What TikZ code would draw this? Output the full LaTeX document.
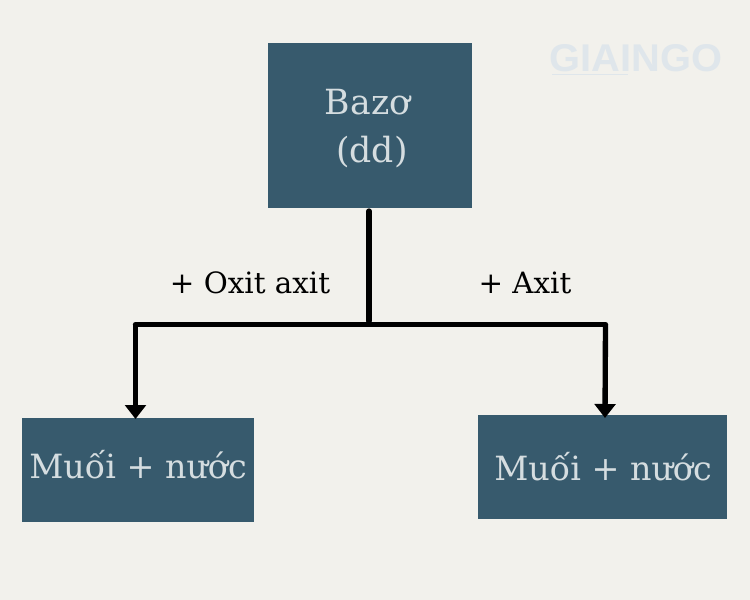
\documentclass[tikz,border=0pt]{standalone}
\usepackage{fontspec}
\setmainfont{DejaVu Serif}
\newfontfamily\logofont{Liberation Sans}
\usetikzlibrary{arrows.meta}
\definecolor{bgc}{HTML}{F2F1EC}
\definecolor{boxc}{HTML}{375A6D}
\definecolor{boxt}{HTML}{D5DDE0}
\definecolor{logoc}{HTML}{DFE6EB}
\tikzset{
 boxn/.style={fill=boxc,inner sep=0pt,anchor=north west},
 boxtxt/.style={text=boxt,inner sep=0pt,font=\fontsize{25}{30}\selectfont},
 lab/.style={text=black,inner sep=0pt,font=\fontsize{22}{26}\selectfont},
 conn/.style={line width=4pt,line cap=round},
 arr/.style={line width=4pt,-{Triangle[length=10.5pt,width=15.5pt]}}
}
\begin{document}
\begin{tikzpicture}[x=0.75pt,y=-0.75pt]
\useasboundingbox (0,0) rectangle (750,600);
\fill[bgc] (0,0) rectangle (750,600);
\node[boxn,minimum width=153pt,minimum height=123.75pt] (baz) at (268,43) {};
\node[boxtxt,font=\fontsize{26}{36}\selectfont,align=center] (baztxt) at (367.5,129) {Bazơ\\\hspace*{6.75pt}(dd)};
\node[boxn,minimum width=174pt,minimum height=78pt] (ml) at (22,418) {};
\node[boxtxt] (mlt) at (138,465) {Muối + nước};
\node[boxn,minimum width=186.75pt,minimum height=78pt] (mr) at (478,415) {};
\node[boxtxt] (mrt) at (603,467) {Muối + nước};
\node[lab] (la) at (250,283) {+ Oxit axit};
\node[lab] (lb) at (525,283) {+ Axit};
\coordinate (top) at (369,211);
\coordinate (j) at (369,321);
\coordinate (a1) at (135.5,324.5);
\coordinate (a2) at (605.5,324.5);
\coordinate (a1e) at (135.5,419);
\coordinate (a2e) at (605,418);
\draw[conn] (top) -- (j);
\draw[conn] (a1) -- (a2);
\draw[arr] (a1) -- (a1e);
\draw[arr] (a2) -- (a2e);
\node[text=logoc,font=\logofont\bfseries\fontsize{29}{30}\selectfont,inner sep=0pt,xscale=1.03] (logo) at (636,58) {GIAINGO};
\coordinate (ul1) at (552,74.5);
\coordinate (ul2) at (628,74.5);
\draw[logoc,line width=0.7pt] (ul1) -- (ul2);
\end{tikzpicture}
\end{document}
